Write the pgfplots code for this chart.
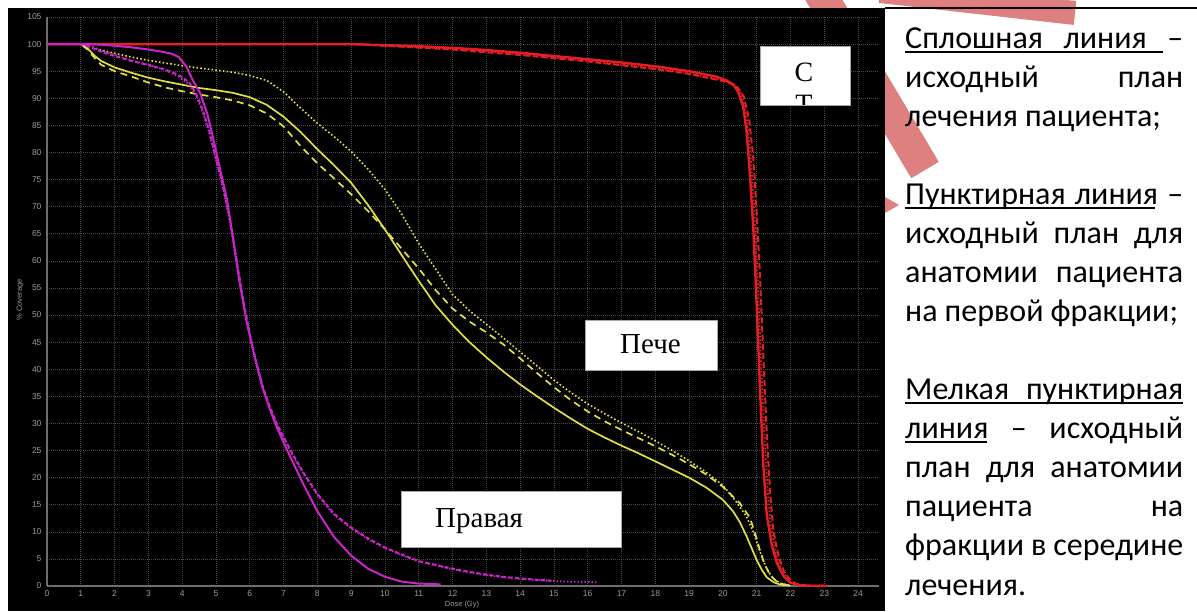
\documentclass[border=0pt]{standalone}
\usepackage{pgfplots}
\pgfplotsset{compat=1.18}
\usepackage{fontspec}
\setmainfont{Liberation Serif}
\setsansfont{Liberation Sans}
\newfontfamily\calfont{Carlito}
\definecolor{myred}{RGB}{228,30,36}
\definecolor{myyel}{RGB}{226,222,72}
\definecolor{mymag}{RGB}{200,36,200}
\definecolor{gridc}{RGB}{72,72,72}
\definecolor{tickc}{RGB}{155,155,155}
\definecolor{axisc}{RGB}{110,110,110}
\definecolor{pinkc}{RGB}{222,128,128}
\newcommand{\colfont}{\calfont\fontsize{32}{32}\selectfont\spaceskip=0.22em plus 1fill minus 0.12em\relax}
\newcommand{\JL}[2]{\node[anchor=base west, inner sep=0pt, font=\colfont] at (905,#1) {\makebox[278pt][s]{#2}};}
\newcommand{\LL}[2]{\node[anchor=base west, inner sep=0pt, font=\colfont] at (905,#1) {#2};}
\begin{document}
\begin{tikzpicture}[x=1pt,y=1pt]
\useasboundingbox (0,0) rectangle (1197,611);
\fill[white] (0,0) rectangle (1197,611);
% pink stripes behind
\draw[pinkc, line width=32pt] (815,626) -- (925,441);
\draw[pinkc, line width=24pt] (880,620) -- (1075,598);
\fill[pinkc] (885,414) -- (899,406) -- (885,398) -- cycle;
% black panel
\fill[black] (8,0) rectangle (885,603);
\begin{axis}[at={(47pt,25pt)}, anchor=south west, scale only axis,
  width=832pt, height=569pt,
  xmin=0, xmax=24.62, ymin=0, ymax=105,
  xtick={0,1,...,24}, ytick={0,5,...,105},
  axis lines=left, axis line style={-, draw=axisc, line width=1.1pt},
  grid=major, major grid style={gridc, line width=0.6pt, dash pattern=on 1pt off 1pt},
  major tick length=0pt,
  /pgf/number format/assume math mode=true,
  tick label style={font=\sffamily\fontsize{8.5}{9}\selectfont, text=tickc},
  xticklabel style={yshift=-1pt},
  yticklabel style={xshift=-2pt},
  clip=true]
% ---- red (solid, dashed, dotted)
\addplot[myred, line width=2.4pt] coordinates {(0,100)(9,100)(10,99.8)(11,99.6)(12,99.3)(13,98.9)(14,98.4)(15,97.8)(16,97.2)(17,96.6)(18,95.9)(19,95.0)(19.8,94.0)(20.1,93.3)(20.3,92.6)(20.45,91.2)(20.6,88.5)(20.7,84)(20.8,76)(20.9,66)(21.0,52)(21.1,36)(21.2,22)(21.3,13)(21.45,7.5)(21.6,4.2)(21.8,1.8)(22.0,0.6)(22.3,0.15)(22.6,0.05)(23.1,0)};
\addplot[myred, line width=2pt, dash pattern=on 6pt off 3pt] coordinates {(0,100)(9,100)(10,99.7)(12,99.0)(14,98.0)(16,96.8)(18,95.4)(19,94.5)(20,93.2)(20.4,92.3)(20.62,90.3)(20.78,86)(20.9,79)(21.0,69)(21.1,57)(21.2,42)(21.3,28)(21.4,17)(21.5,10)(21.65,5.5)(21.8,2.8)(22.0,1.0)(22.2,0.3)(22.5,0.05)(23.1,0)};
\addplot[myred, line width=1.8pt, dash pattern=on 1.5pt off 2pt] coordinates {(0,100)(9,100)(10,99.7)(12,99.1)(14,98.1)(16,96.9)(18,95.5)(19,94.6)(20,93.3)(20.35,92.5)(20.55,90.8)(20.7,86.5)(20.82,79.5)(20.92,70)(21.02,58)(21.12,43)(21.22,29)(21.32,18)(21.42,11)(21.57,6)(21.72,3)(21.92,1.1)(22.1,0.3)(22.5,0.05)(23.1,0)};
% ---- yellow
\addplot[myyel, line width=1.7pt] coordinates {(0,100)(1.0,100)(1.2,99.2)(1.4,97.9)(1.6,96.9)(2.0,95.7)(2.5,94.7)(3.0,93.8)(3.5,93.1)(4.0,92.5)(4.5,91.9)(5.0,91.5)(5.5,91.0)(6.0,90.2)(6.5,88.8)(7.0,86.6)(7.5,83.8)(8.0,80.6)(8.5,77.6)(9.0,74.4)(9.5,70.3)(10.0,65.8)(10.5,61.0)(11.0,56.3)(11.5,51.8)(12.0,48.2)(12.5,45.0)(13.0,42.2)(13.5,39.6)(14.0,37.2)(14.5,35.0)(15.0,32.9)(15.5,30.9)(16.0,29.0)(16.5,27.4)(17.0,25.9)(17.5,24.5)(18.0,23.0)(18.5,21.5)(19.0,20.0)(19.5,18.2)(20.0,15.9)(20.3,13.8)(20.5,11.8)(20.7,9.2)(20.85,7.0)(21.0,4.8)(21.15,3.0)(21.3,1.6)(21.5,0.7)(21.7,0.25)(22.0,0.05)};
\addplot[myyel, line width=1.7pt, dash pattern=on 7pt off 5pt] coordinates {(0,100)(1.0,100)(1.2,99)(1.4,97.5)(1.6,96.2)(2.0,95.0)(2.5,94.0)(3.0,92.9)(3.5,92.0)(4.0,91.3)(4.5,90.7)(5.0,90.2)(5.5,89.6)(6.0,88.7)(6.5,87.2)(7.0,84.8)(7.5,81.2)(8.0,78.0)(8.5,75.2)(9.0,72.3)(9.5,69.2)(10.0,65.8)(10.5,62.2)(11.0,58.6)(11.5,54.6)(12.0,51.2)(12.5,48.8)(13.0,46.8)(13.5,44.6)(14.0,42.0)(14.5,39.3)(15.0,36.7)(15.5,34.3)(16.0,32.2)(16.5,30.4)(17.0,28.8)(17.5,27.3)(18.0,25.8)(18.5,24.2)(19.0,22.5)(19.5,20.6)(20.0,18.3)(20.5,15.3)(20.8,12.6)(20.95,9.8)(21.1,6.5)(21.25,3.8)(21.4,2.0)(21.6,0.8)(21.8,0.3)(22.0,0.05)};
\addplot[myyel, line width=1.6pt, dash pattern=on 1.6pt off 2.2pt] coordinates {(0,100)(1.0,100)(1.3,99.5)(1.6,98.9)(2.0,98.3)(2.5,97.6)(3.0,97.0)(3.5,96.5)(4.0,96.0)(4.5,95.6)(5.0,95.2)(5.5,94.8)(6.0,94.2)(6.5,93.3)(7.0,91.2)(7.5,88.2)(8.0,85.4)(8.5,82.9)(9.0,80.2)(9.5,76.9)(10.0,73.2)(10.5,68.6)(11.0,63.2)(11.5,58.5)(12.0,53.8)(12.5,50.8)(13.0,48.3)(13.5,45.8)(14.0,43.2)(14.5,40.6)(15.0,38.0)(15.5,35.7)(16.0,33.6)(16.5,31.8)(17.0,30.1)(17.5,28.5)(18.0,26.8)(18.5,25.0)(19.0,23.1)(19.5,21.0)(20.0,18.6)(20.4,15.5)(20.7,12.8)(20.9,10.0)(21.05,7.2)(21.2,4.6)(21.35,2.6)(21.5,1.3)(21.7,0.5)(22.0,0.1)};
% ---- magenta
\addplot[mymag, line width=2pt] coordinates {(0,100)(1.2,100)(1.6,99.9)(2.0,99.7)(2.5,99.4)(3.0,99.0)(3.4,98.6)(3.7,98.2)(3.9,97.6)(4.13,95.8)(4.3,93.5)(4.53,91)(4.75,87)(4.93,82.3)(5.1,77.5)(5.32,71.5)(5.5,64.5)(5.7,56)(5.9,49)(6.1,43.5)(6.36,37)(6.6,32.5)(6.8,29.3)(7.0,26.5)(7.3,22.5)(7.6,18.6)(8.0,13.8)(8.5,9.0)(9.0,5.6)(9.5,3.2)(10.0,1.7)(10.5,0.8)(11,0.45)(11.65,0.3)};
\addplot[mymag, line width=2pt, dash pattern=on 4pt off 2.5pt] coordinates {(0,100)(1.0,100)(1.3,99.4)(1.6,98.6)(2.0,97.8)(2.5,96.9)(3.0,96.1)(3.5,95.3)(3.9,94.3)(4.2,93.0)(4.4,91)(4.6,88)(4.8,84)(5.0,79)(5.2,74)(5.4,68)(5.6,60.5)(5.8,53)(6.0,46.5)(6.2,41)(6.4,36.5)(6.6,33)(6.8,30)(7.0,27.5)(7.3,24)(7.6,20.8)(8.0,17.0)(8.5,13.3)(9.0,10.8)(9.5,8.8)(10.0,7.1)(10.5,5.8)(11.0,4.6)(11.5,3.9)(12.0,3.2)(12.5,2.6)(13.0,2.1)(13.5,1.7)(14.0,1.4)(14.5,1.15)(15.0,0.95)};
\addplot[mymag, line width=1.8pt, dash pattern=on 1.5pt off 2pt] coordinates {(0,100)(1.0,100)(1.3,99.5)(1.6,98.8)(2.0,98.0)(2.5,97.0)(3.0,96.2)(3.5,95.2)(3.9,94.0)(4.2,92.6)(4.4,90.6)(4.6,87.6)(4.8,83.6)(5.0,78.6)(5.2,73.6)(5.4,67.6)(5.6,60)(5.8,52.6)(6.0,46.2)(6.2,40.8)(6.4,36.3)(6.6,32.8)(6.8,29.8)(7.0,27.3)(7.3,23.8)(7.6,20.6)(8.0,16.8)(8.5,13.1)(9.0,10.6)(9.5,8.6)(10.0,7.0)(10.5,5.7)(11.0,4.5)(11.5,3.8)(12.0,3.1)(12.5,2.5)(13.0,2.0)(13.5,1.6)(14.0,1.3)(14.5,1.1)(15.0,0.9)(15.5,0.8)(16.3,0.7)};
\end{axis}
% axis labels
\node[font=\sffamily\fontsize{7.5}{8}\selectfont, text=tickc] at (462,6) {Dose (Gy)};
\node[font=\sffamily\fontsize{7.5}{8}\selectfont, text=tickc, rotate=90] at (20,311) {\% Coverage};
% white label boxes
\begin{scope}
\clip (760,505.3) rectangle (850.7,564.3);
\fill[white] (760,505.3) rectangle (850.7,564.3);
\node[anchor=base, inner sep=0pt, font=\fontsize{28}{28}\selectfont] at (804,529.3) {С};
\node[anchor=base, inner sep=0pt, font=\fontsize{28}{28}\selectfont] at (804,497) {Т};
\end{scope}
\draw[gray!70, line width=0.6pt] (760,505.3) rectangle (850.7,564.3);
\draw[gray!70, line width=0.6pt, fill=white] (585.7,241) rectangle (717.3,291);
\node[anchor=base west, inner sep=0pt, font=\fontsize{29}{29}\selectfont] at (620,257) {Пече};
\draw[gray!70, line width=0.6pt, fill=white] (401,64) rectangle (621.7,119.3);
\node[anchor=base west, inner sep=0pt, font=\fontsize{29}{29}\selectfont] at (435,84) {Правая};
% right text column
\draw[black, line width=2.5pt] (885,603) -- (1197,603);
\JL{562.7}{Сплошная линия –}
\JL{523.65}{исходный план}
\LL{484.6}{лечения пациента;}
\JL{406.5}{Пунктирная линия –}
\JL{367.45}{исходный план для}
\JL{328.4}{анатомии пациента}
\LL{289.35}{на первой фракции;}
\JL{211.25}{Мелкая пунктирная}
\JL{172.2}{линия – исходный}
\JL{133.15}{план для анатомии}
\JL{94.1}{пациента на}
\JL{55.05}{фракции в середине}
\LL{16}{лечения.}
\draw[black, line width=2pt] (905,559.2) -- (1163,559.2);
\draw[black, line width=2pt] (905,403) -- (1155,403);
\draw[black, line width=2pt] (905,207.7) -- (1183,207.7);
\draw[black, line width=2pt] (905,168.7) -- (987,168.7);
\end{tikzpicture}
\end{document}
